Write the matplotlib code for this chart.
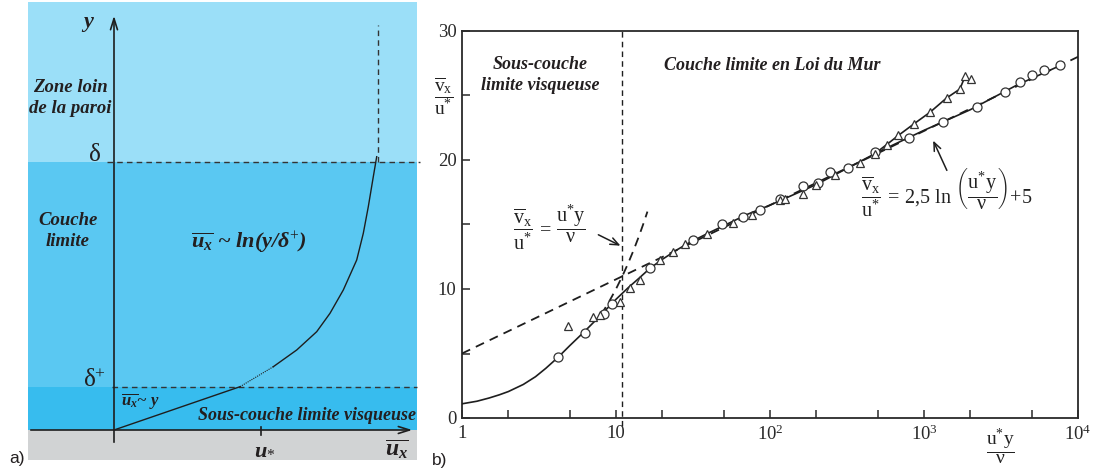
import matplotlib
matplotlib.use('Agg')
import matplotlib.pyplot as plt
from matplotlib.patches import Rectangle
from matplotlib.ticker import FixedLocator, NullFormatter

plt.rcParams['font.family'] = ['Liberation Serif', 'DejaVu Serif']
plt.rcParams['mathtext.fontset'] = 'custom'
plt.rcParams['mathtext.rm'] = 'Liberation Serif'
plt.rcParams['mathtext.it'] = 'Liberation Serif:italic:bold'
plt.rcParams['mathtext.bf'] = 'Liberation Serif:bold'
plt.rcParams['mathtext.sf'] = 'Liberation Sans'

# ---------------- panel a (schematic) data ----------------
zone_bottoms = [-30, 0, 43, 268]          # wall, viscous sublayer, boundary layer, far zone
zone_tops = [0, 43, 268, 428]
zone_colors = ['#d1d3d4', '#37bcee', '#5ac8f2', '#9bdff8']
delta_plus = 43
delta = 268
u_star = 147
# velocity profile (u, y) in diagram units
lin_u = [0, 126]
lin_y = [0, 43.3]
dot_u = [126, 159.3]
dot_y = [43.3, 63.3]
log_u = [159.3, 182.7, 202.7, 216, 229.3, 242.7, 249.3, 254.3, 259.3, 262.7]
log_y = [63.3, 80, 98.3, 116.7, 140, 170, 196.7, 223.3, 253.3, 273.3]
edge_u = 264

# ---------------- panel b data ----------------
circ_x = [4.2, 6.3, 8.4, 9.4, 16.6, 31.8, 48.5, 66.5, 86, 116, 164, 206, 245, 323,
          480, 800, 1330, 2200, 3350, 4200, 5000, 6000, 7600]
circ_y = [4.75, 6.6, 8.1, 8.8, 11.6, 13.8, 15.0, 15.6, 16.1, 17.0, 18.0, 18.2, 19.1, 19.35,
          20.6, 21.7, 22.95, 24.1, 25.3, 26.05, 26.6, 27.0, 27.4]
tri_x = [4.9, 7.1, 7.9, 10.6, 12.3, 14.3, 19.3, 23.5, 28.1, 38.8, 57.8, 76, 116, 125,
         164, 200, 264, 384, 481, 573, 681, 860, 1094, 1400, 1710, 1850, 2010]
tri_y = [7.1, 7.85, 8.0, 9.0, 10.05, 10.7, 12.25, 12.9, 13.5, 14.3, 15.1, 15.7, 16.9, 16.95,
         17.4, 18.05, 18.85, 19.75, 20.5, 21.2, 21.9, 22.8, 23.7, 24.8, 25.5, 26.5, 26.3]
main_x = [1, 1.25, 1.5, 1.75, 2, 2.5, 3, 3.5, 4.2, 5, 6.3, 8, 10, 12, 14, 16.6, 20, 25,
          30, 40, 50, 70, 100, 200, 500, 1000, 2000, 4000, 7600]
main_y = [1.1, 1.3, 1.55, 1.8, 2.05, 2.6, 3.2, 3.85, 4.7, 5.6, 6.75, 8.0, 9.2, 10.1, 10.8,
          11.6, 12.3, 13.05, 13.6, 14.35, 14.9, 15.75, 16.5, 18.1, 20.6, 22.3, 23.9, 25.8, 27.3]
loglaw_x = [1, 10000]
loglaw_y = [5.0, 28.0]
linlaw_x = [8, 9, 10, 11, 12, 13, 14, 15, 16]
linlaw_y = [8, 9, 10, 11, 12, 13, 14, 15, 16]
x_sep = 11
xticks_major = [1, 10, 100, 1000, 10000]
xtick_labels = ['1', '10', r'$\mathrm{10^{2}}$', r'$\mathrm{10^{3}}$', r'$\mathrm{10^{4}}$']
xticks_minor = [2, 5, 20, 50, 200, 500, 2000, 5000]
yticks_major = [0, 10, 20, 30]
yticks_minor = [5, 15, 25]

W, H = 1097, 472
fig = plt.figure(figsize=(W / 100, H / 100), dpi=100)
fig.patch.set_facecolor('white')

ink = '#1e1e1e'

# ================= panel a =================
axa = fig.add_axes([28 / W, 1 - 460 / H, 389 / W, 458 / H])
axa.set_xlim(-86, 303)
axa.set_ylim(-30, 428)
axa.axis('off')
for b, t, c in zip(zone_bottoms, zone_tops, zone_colors):
    axa.add_patch(Rectangle((-86, b), 389, t - b, facecolor=c, edgecolor='none', zorder=0))

# axes arrows
axa.annotate('', xy=(0, 417), xytext=(0, -15),
             arrowprops=dict(arrowstyle='->,head_length=0.8,head_width=0.25', color=ink, lw=1.2))
axa.annotate('', xy=(301, 0), xytext=(-86, 0),
             arrowprops=dict(arrowstyle='->,head_length=0.8,head_width=0.25', color=ink, lw=1.2))
# u* tick
axa.plot([u_star, u_star], [-5, 3], color=ink, lw=1.2)
# dashed levels
axa.plot([-7, 306], [delta, delta], ls=(0, (4, 3)), color='#333333', lw=1.0, clip_on=False)
axa.plot([-2, 303], [delta_plus, delta_plus], ls=(0, (4, 3)), color='#333333', lw=1.0, clip_on=False)
axa.plot([edge_u, edge_u], [delta, 405], ls=(0, (4, 3)), color='#333333', lw=1.0)
# profile
axa.plot(lin_u, lin_y, color=ink, lw=1.0)
axa.plot(dot_u, dot_y, color=ink, lw=0.8, ls=(0, (1, 1)))
axa.plot(log_u, log_y, color=ink, lw=1.0)

bi = dict(fontstyle='italic', fontweight='bold', color='#231f20')
axa.text(-26, 408, 'y', fontsize=16, ha='center', va='center', **bi)
axa.text(-44, 332, 'Zone loin\nde la paroi', fontsize=13.5, ha='center', va='center',
         linespacing=1.3, **bi)
axa.text(-46, 199, 'Couche\nlimite', fontsize=13.5, ha='center', va='center',
         linespacing=1.3, **bi)
axa.text(-19, 275, 'δ', fontsize=18, ha='center', va='center', color='#231f20')
axa.text(-19, 49, r'δ$\mathrm{^{+}}$', fontsize=18, ha='center', va='center', color='#231f20')
axa.text(135, 187, r'$\overline{u_x}$ ~ ln(y/δ$\mathrm{^{+}}$)', fontsize=16, ha='center',
         va='center', **bi)
axa.text(7, 28, r'$\overline{u_x}$~ y', fontsize=12, ha='left', va='center', **bi)
axa.text(193, 15, 'Sous-couche limite visqueuse', fontsize=13, ha='center', va='center', **bi)
axa.text(151, -20, r'$u_{*}$', fontsize=16, ha='center', va='center', color='#231f20')
axa.text(283, -19, r'$\overline{u_x}$', fontsize=17, ha='center', va='center', color='#231f20')

fig.text(17 / W, 1 - 458 / H, 'a)', fontsize=12.5, ha='center', va='center',
         family=['Liberation Sans', 'DejaVu Sans'], color='#231f20')

# ================= panel b =================
axb = fig.add_axes([462 / W, 1 - 418 / H, (1078 - 462) / W, (418 - 31) / H])
axb.set_xscale('log')
axb.set_xlim(1, 10000)
axb.set_ylim(0, 30)
for s in axb.spines.values():
    s.set_color('#2a2a2a')
    s.set_linewidth(1.3)

axb.xaxis.set_major_locator(FixedLocator(xticks_major))
axb.xaxis.set_minor_locator(FixedLocator(xticks_minor))
axb.set_xticklabels(xtick_labels)
axb.xaxis.set_minor_formatter(NullFormatter())
axb.set_yticks(yticks_major)
axb.set_yticks(yticks_minor, minor=True)
axb.tick_params(axis='both', which='both', direction='in', length=6, width=1.1,
                colors='#2a2a2a', labelsize=13.5, labelcolor='#2a2a2a')
axb.tick_params(axis='x', which='both', pad=5, top=False)
axb.tick_params(axis='y', which='both', pad=4, right=False)

# curves
axb.plot(main_x, main_y, color=ink, lw=1.2, zorder=3)
axb.plot(tri_x[18:-1], tri_y[18:-1], color=ink, lw=1.2, zorder=3)
axb.plot(loglaw_x, loglaw_y, color=ink, lw=1.3, ls=(0, (5, 3.5)), zorder=3)
axb.plot(linlaw_x, linlaw_y, color=ink, lw=1.3, ls=(0, (5, 3.5)), zorder=3)
axb.plot([x_sep, x_sep], [-0.6, 30], color=ink, lw=1.0, ls=(0, (4, 3)), clip_on=False, zorder=3)

# data points
axb.plot(circ_x, circ_y, ls='none', marker='o', ms=6.5, mfc='white', mec='#333333',
         mew=0.9, zorder=4)
axb.plot(tri_x, tri_y, ls='none', marker='^', ms=5.5, mfc='white', mec='#333333',
         mew=0.9, zorder=5)

# region titles
axb.text(10 ** ((540 - 462) / 154), (418 - 75) / 12.9, 'Sous-couche\nlimite visqueuse',
         fontsize=13, ha='center', va='center', linespacing=1.3, **bi)
axb.text(10 ** ((772 - 462) / 154), (418 - 66) / 12.9, 'Couche limite en Loi du Mur',
         fontsize=13, ha='center', va='center', **bi)

# formulas
axb.text(3.7, 14.8,
         r'$\dfrac{\overline{\mathrm{v}}_{\mathrm{x}}}{\mathrm{u}^{*}}\mathrm{\,=\,}\dfrac{\mathrm{u}^{*}\mathrm{y}}{\mathrm{\nu}}$',
         fontsize=14.5, ha='center', va='center', color='#222222')
axb.annotate('', xy=(11.1, 13.26), xytext=(7.4, 14.3),
             arrowprops=dict(arrowstyle='->,head_length=0.6,head_width=0.25', color=ink, lw=1.1))
axb.text(1400, 17.4,
         r'$\dfrac{\overline{\mathrm{v}}_{\mathrm{x}}}{\mathrm{u}^{*}}\mathrm{\,=\,2{,}5\ ln\ }\left(\dfrac{\mathrm{u}^{*}\mathrm{y}}{\mathrm{\nu}}\right)\mathrm{+5}$',
         fontsize=14.5, ha='center', va='center', color='#222222')
axb.annotate('', xy=(1127, 21.7), xytext=(1432, 19.0),
             arrowprops=dict(arrowstyle='->,head_length=0.6,head_width=0.25', color=ink, lw=1.1))

# axis labels
fig.text(444 / W, 1 - 96 / H, r'$\dfrac{\overline{\mathrm{v}}_{\mathrm{x}}}{\mathrm{u}^{*}}$',
         fontsize=14, ha='center', va='center', color='#222222')
fig.text(1000 / W, 1 - 447 / H, r'$\dfrac{\mathrm{u}^{*}\mathrm{y}}{\mathrm{\nu}}$',
         fontsize=14, ha='center', va='center', color='#222222')
fig.text(440 / W, 1 - 460 / H, 'b)', fontsize=12.5, ha='center', va='center',
         family=['Liberation Sans', 'DejaVu Sans'], color='#231f20')

fig.savefig('out.png', dpi=100, facecolor='white')
